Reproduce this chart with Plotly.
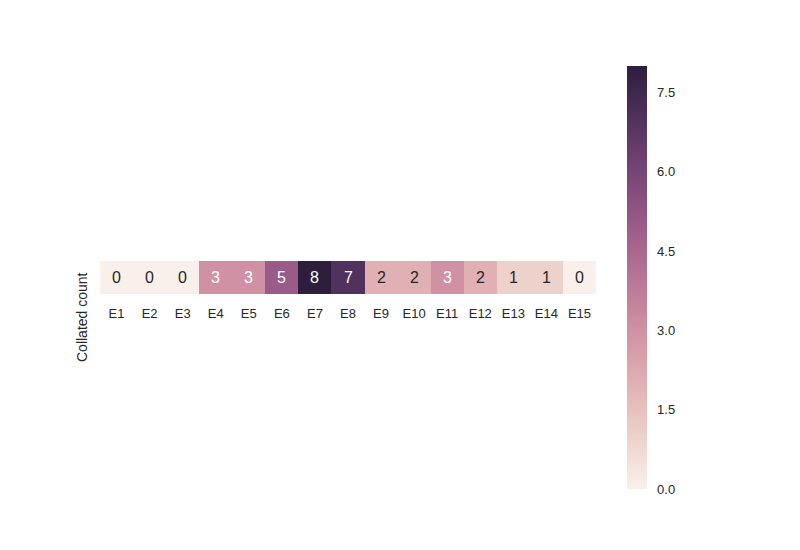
import numpy as np
import plotly.graph_objects as go

# ---- data ----
categories = ["E1", "E2", "E3", "E4", "E5", "E6", "E7", "E8", "E9", "E10",
              "E11", "E12", "E13", "E14", "E15"]
counts = [0, 0, 0, 3, 3, 5, 8, 7, 2, 2, 3, 2, 1, 1, 0]
row_label = "Collated count"
cbar_ticks = [0.0, 1.5, 3.0, 4.5, 6.0, 7.5]
vmin, vmax = 0, 8

# ---- seaborn cubehelix (light=.95, dark=.15) ----
def cubehelix(x, start=0.0, rot=0.4, gamma=1.0, hue=0.8):
    xg = x ** gamma
    a = hue * xg * (1 - xg) / 2
    phi = 2 * np.pi * (start / 3 + rot * x)
    r = xg + a * (-0.14861 * np.cos(phi) + 1.78277 * np.sin(phi))
    g = xg + a * (-0.29227 * np.cos(phi) - 0.90649 * np.sin(phi))
    b = xg + a * (1.97294 * np.cos(phi))
    return np.clip([r, g, b], 0, 1)

def cmap(frac):
    t = 0.95 + (0.15 - 0.95) * frac
    return cubehelix(t)

def to_hex(rgb):
    return "#%02x%02x%02x" % tuple(int(round(c * 255)) for c in rgb)

stops = np.linspace(0, 1, 41)
colorscale = [[float(s), to_hex(cmap(s))] for s in stops]

def lum(rgb):
    lin = [c / 12.92 if c <= 0.03928 else ((c + 0.055) / 1.055) ** 2.4 for c in rgb]
    return 0.2126 * lin[0] + 0.7152 * lin[1] + 0.0722 * lin[2]

FONT = "Liberation Sans, Arial, sans-serif"

fig = go.Figure()
fig.add_trace(go.Heatmap(
    z=[counts], x=categories, y=[row_label],
    zmin=vmin, zmax=vmax, colorscale=colorscale,
    xgap=0, ygap=0, hoverinfo="x+z",
    colorbar=dict(
        x=(627 - 100) / 496, xanchor="left", xref="paper",
        y=0.5, yanchor="middle", len=1, lenmode="fraction",
        thickness=20, thicknessmode="pixels",
        xpad=0, ypad=0, outlinewidth=0,
        tickvals=cbar_ticks, ticktext=["%.1f" % v for v in cbar_ticks],
        ticks="outside", ticklen=8, tickcolor="rgba(0,0,0,0)",
        tickfont=dict(family=FONT, size=13, color="#262626"),
    ),
))

annotations = []
for cat, v in zip(categories, counts):
    c = cmap((v - vmin) / (vmax - vmin))
    col = "#ffffff" if lum(c) < 0.408 else "#262626"
    annotations.append(dict(
        x=cat, y=row_label, xref="x", yref="y", text=str(v),
        showarrow=False, font=dict(family=FONT, size=16, color=col),
    ))

annotations.append(dict(
    x=(82 - 100) / 496, y=(489 - 317) / 423, xref="paper", yref="paper",
    text=row_label, textangle=-90, showarrow=False,
    xanchor="center", yanchor="middle",
    font=dict(family=FONT, size=14, color="#262626"),
))

fig.update_layout(
    width=800, height=550,
    margin=dict(l=100, r=204, t=66, b=61),
    paper_bgcolor="white", plot_bgcolor="white",
    annotations=annotations,
    xaxis=dict(showgrid=False, zeroline=False, showline=False,
               ticks="outside", ticklen=7, tickcolor="rgba(0,0,0,0)",
               tickfont=dict(family=FONT, size=13, color="#262626"),
               fixedrange=True),
    yaxis=dict(domain=[(489 - 294) / 423, (489 - 261) / 423],
               showgrid=False, zeroline=False, showline=False,
               showticklabels=False, fixedrange=True),
    showlegend=False,
)

fig.write_html("out.html")
